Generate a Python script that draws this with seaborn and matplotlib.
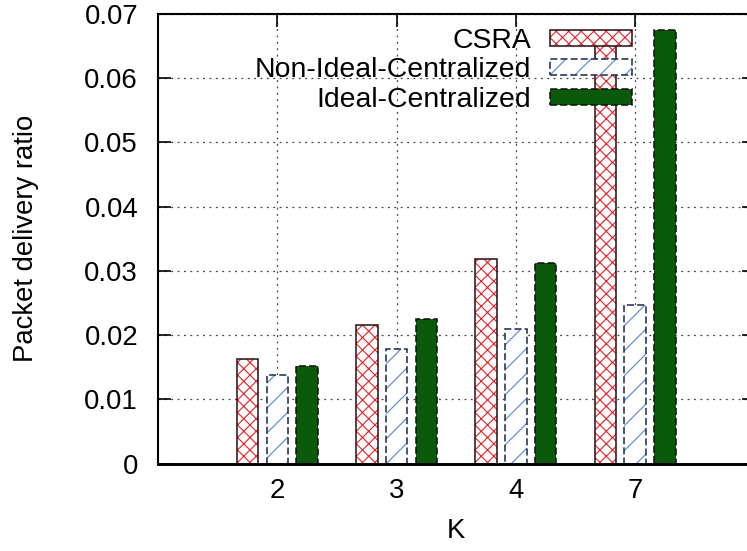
import matplotlib
matplotlib.use("Agg")
import matplotlib.pyplot as plt
import seaborn as sns
import pandas as pd
from matplotlib.patches import Rectangle
from matplotlib.legend_handler import HandlerTuple

# Packet delivery ratio per K value for each scheme
k_values = ["2", "3", "4", "7"]
series_names = ["CSRA", "Non-Ideal-Centralized", "Ideal-Centralized"]
csra = [0.0163, 0.0216, 0.0318, 0.0667]
non_ideal = [0.0138, 0.0178, 0.0210, 0.0247]
ideal = [0.0152, 0.0225, 0.0312, 0.0675]
y_ticks = [0.0, 0.01, 0.02, 0.03, 0.04, 0.05, 0.06, 0.07]
y_tick_labels = ["0", "0.01", "0.02", "0.03", "0.04", "0.05", "0.06", "0.07"]

sns.set_theme(style="white")
plt.rcParams["font.family"] = ["Liberation Sans", "DejaVu Sans"]
plt.rcParams["text.color"] = "black"
plt.rcParams["axes.labelcolor"] = "black"
plt.rcParams["hatch.linewidth"] = 0.55

DPI = 150
W, H = 747, 551
FS = 13.2
LEG_FS = 13.6

fig = plt.figure(figsize=(W / DPI, H / DPI), dpi=DPI)
ax = fig.add_axes([158 / W, 1 - 463.5 / H, 596.5 / W, 449.5 / H])

df = pd.DataFrame({
    "K": k_values * 3,
    "series": [s for s in series_names for _ in k_values],
    "ratio": csra + non_ideal + ideal,
})

fill_colors = ["white", "white", "#0b5a0b"]
sns.barplot(data=df, x="K", y="ratio", hue="series", order=k_values,
            hue_order=series_names, palette=fill_colors, saturation=1,
            width=0.75, gap=0.28, errorbar=None, legend=False, ax=ax)

styles = [
    dict(face="white", hatch="xxxx", hatch_color="#e8262b", edge="#2b1212", ls="-"),
    dict(face="white", hatch="//", hatch_color="#5a86d6", edge="#1d2c4c", ls=(0, (4.5, 2))),
    dict(face="#0b5a0b", hatch=None, hatch_color="none", edge="#111111", ls=(0, (4.5, 2))),
]

OUT_LW = 0.75
for container, st in zip(ax.containers, styles):
    for bar in container:
        bar.set_facecolor(st["face"])
        bar.set_edgecolor(st["hatch_color"])
        bar.set_linewidth(0)
        if st["hatch"]:
            bar.set_hatch(st["hatch"])
        outline = Rectangle(bar.get_xy(), bar.get_width(), bar.get_height(),
                            fill=False, edgecolor=st["edge"], linewidth=OUT_LW,
                            linestyle=st["ls"], zorder=bar.get_zorder() + 0.1)
        ax.add_patch(outline)

ax.set_xlim(-1, 4)
ax.set_ylim(0, 0.07)
ax.set_yticks(y_ticks, labels=y_tick_labels)

ax.set_axisbelow(True)
ax.grid(True, color="#444444", linestyle=(0, (1.5, 3.6)), linewidth=0.6)

for side in ["left", "top", "bottom"]:
    ax.spines[side].set_visible(True)
    ax.spines[side].set_color("black")
    ax.spines[side].set_linewidth(1.0)
ax.spines["bottom"].set_linewidth(1.4)
ax.spines["right"].set_visible(False)

ax.tick_params(axis="both", direction="in", length=6.2, width=0.8, color="black",
               labelsize=FS, labelcolor="black",
               top=True, bottom=True, left=True, right=True)
ax.tick_params(axis="y", pad=9.6)
ax.tick_params(axis="x", pad=7)

ax.set_ylabel("Packet delivery ratio", fontsize=FS, color="black")
ax.set_xlabel("K", fontsize=FS, color="black")
ax.yaxis.set_label_coords(-0.1995, 0.5)
ax.xaxis.set_label_coords(0.5, -0.121)

# Legend keys: hatched fill with its outline drawn on top
handles = []
for st in styles:
    fill = Rectangle((0, 0), 1, 1, facecolor=st["face"], edgecolor=st["hatch_color"],
                     linewidth=0, hatch=st["hatch"])
    border = Rectangle((0, 0), 1, 1, fill=False, edgecolor=st["edge"],
                       linewidth=OUT_LW, linestyle=st["ls"])
    handles.append((fill, border))

fig.legend(handles, series_names, loc="upper right",
           bbox_to_anchor=(632 / W, 1 - 28 / H), frameon=False, markerfirst=False,
           handlelength=2.9, handleheight=0.5, handletextpad=0.65,
           labelspacing=0.12, borderpad=0, borderaxespad=0, fontsize=LEG_FS,
           handler_map={tuple: HandlerTuple(ndivide=1, pad=0)})

fig.savefig("out.png", dpi=DPI)
